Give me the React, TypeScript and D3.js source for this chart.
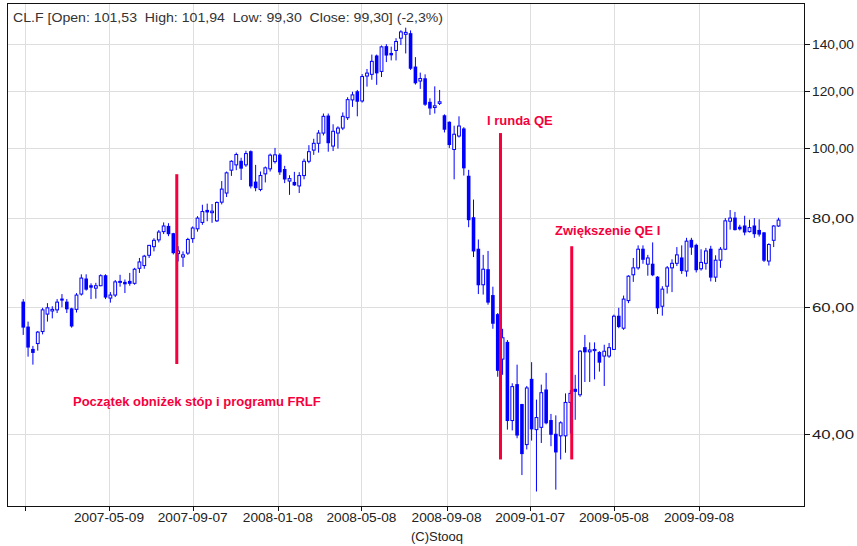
import * as d3 from "d3";

const TITLE = "CL.F [Open: 101,53  High: 101,94  Low: 99,30  Close: 99,30] (-2,3%)";

// weekly candles, one per Friday from 2007-01-05 to 2010-01-01
const FIRST_WEEK = "2007-01-05";
const LAST_WEEK = "2010-01-01";

// [open, high, low, close]
const ohlc2007 = [
  [61.0, 61.6, 54.9, 56.3], [56.3, 57.3, 51.2, 52.8], [52.4, 53.0, 49.9, 51.9], [53.4, 55.6, 52.2, 55.4],
  [55.5, 59.9, 55.0, 59.5], [58.7, 60.8, 57.3, 59.9], [59.3, 60.2, 57.9, 59.6], [59.5, 61.6, 58.9, 61.0],
  [61.6, 62.6, 60.0, 61.4], [61.0, 61.6, 58.9, 59.7], [59.7, 59.9, 56.2, 56.5], [59.6, 62.8, 59.0, 62.4],
  [62.6, 66.7, 62.3, 65.9], [65.7, 66.7, 63.3, 63.6], [64.3, 64.8, 61.6, 64.0], [63.8, 64.9, 61.7, 64.3],
  [64.3, 66.7, 64.2, 66.4], [66.4, 66.7, 61.6, 62.0], [61.8, 63.0, 60.9, 62.4], [62.4, 65.5, 62.0, 65.1],
  [65.0, 66.6, 64.1, 65.2], [65.0, 65.6, 62.8, 64.7], [65.2, 67.0, 64.3, 64.8], [64.8, 68.1, 64.5, 67.8],
  [68.0, 70.3, 67.0, 69.4], [68.6, 71.0, 67.9, 70.7], [70.9, 73.3, 70.3, 73.2], [72.9, 74.9, 71.8, 74.4],
  [74.5, 76.9, 73.9, 76.4], [76.5, 78.8, 75.9, 77.9], [77.8, 78.6, 75.4, 76.0], [76.0, 76.2, 71.1, 71.5],
  [71.3, 73.0, 69.5, 71.9], [70.5, 71.8, 68.3, 71.0], [71.4, 75.0, 71.0, 74.6], [74.8, 77.8, 73.8, 77.4],
  [77.2, 80.4, 76.5, 79.9], [78.8, 83.4, 78.2, 81.6], [81.9, 83.7, 79.1, 81.5], [81.3, 83.6, 78.7, 81.7],
  [79.2, 84.3, 78.9, 84.0], [84.1, 90.0, 83.5, 87.7], [86.6, 92.8, 85.5, 92.4], [93.2, 96.2, 91.5, 95.9],
  [94.8, 98.6, 93.2, 98.0], [95.9, 97.0, 90.3, 93.8], [94.8, 99.2, 94.2, 98.3], [98.9, 99.3, 87.9, 88.6],
  [89.7, 94.8, 87.1, 88.1], [87.6, 92.8, 87.1, 91.6], [92.1, 94.3, 89.6, 93.9], [93.6, 98.3, 92.8, 97.8],
];

const ohlc2008 = [
  [95.8, 100.1, 95.2, 97.9], [97.8, 98.4, 91.8, 92.7], [93.4, 94.5, 89.4, 90.6], [90.0, 91.7, 86.1, 90.7],
  [89.6, 92.7, 88.6, 88.9], [88.6, 92.6, 86.6, 91.6], [91.6, 96.7, 90.5, 95.9], [95.9, 101.0, 95.3, 98.9],
  [99.4, 103.1, 97.9, 101.6], [101.6, 106.0, 98.6, 105.0], [105.0, 111.8, 104.2, 110.8], [110.9, 111.8, 98.9, 101.8],
  [100.7, 108.0, 99.1, 105.6], [105.0, 107.3, 99.9, 106.7], [106.7, 112.2, 106.0, 110.8], [110.3, 117.8, 109.5, 116.9],
  [116.8, 119.9, 114.2, 118.7], [119.9, 120.6, 110.8, 116.3], [116.4, 126.9, 115.8, 125.9], [126.1, 129.0, 121.9, 127.3],
  [126.8, 135.1, 124.6, 132.2], [134.5, 135.1, 122.6, 127.4], [128.0, 139.1, 125.7, 138.5], [138.6, 139.7, 131.9, 134.9],
  [135.6, 138.6, 132.6, 135.0], [136.9, 142.4, 132.6, 140.9], [142.4, 146.1, 139.3, 145.3], [144.2, 147.3, 135.6, 145.1],
  [144.5, 146.0, 128.6, 129.3], [129.8, 134.0, 122.7, 123.4], [124.1, 127.5, 121.0, 125.1], [125.0, 126.8, 114.6, 115.2],
  [115.9, 117.4, 111.3, 113.8], [114.0, 122.0, 111.8, 114.6], [115.5, 120.6, 114.9, 116.1], [111.0, 111.5, 105.2, 106.3],
  [108.7, 109.0, 100.1, 101.2], [99.6, 107.5, 90.5, 104.6], [104.0, 110.8, 103.5, 107.4], [106.4, 107.0, 91.6, 93.9],
  [91.4, 93.3, 77.6, 79.5], [80.0, 84.8, 70.5, 71.9], [72.3, 74.6, 62.6, 64.5], [64.5, 71.0, 62.5, 67.8],
  [67.7, 71.9, 60.5, 61.0], [62.3, 64.1, 56.0, 57.0], [58.6, 58.9, 48.0, 49.0], [50.8, 56.0, 48.3, 54.4],
  [53.6, 54.0, 40.5, 41.7], [41.7, 47.0, 40.4, 46.5], [46.8, 49.9, 39.4, 39.8], [43.9, 44.0, 35.0, 37.5],
];

const ohlc2009 = [
  [38.6, 46.6, 38.0, 46.3], [47.6, 50.3, 39.1, 40.6], [40.5, 44.6, 33.2, 42.1], [40.8, 46.8, 38.8, 45.6],
  [46.0, 48.6, 41.2, 41.4], [41.7, 42.6, 38.4, 39.9], [39.9, 42.4, 33.4, 37.7], [39.7, 41.6, 36.8, 41.4],
  [39.7, 45.5, 37.6, 44.2], [44.2, 46.0, 40.0, 45.5], [46.1, 48.3, 41.8, 45.8], [45.3, 52.3, 45.0, 52.1],
  [52.7, 54.9, 47.2, 52.0], [52.0, 53.6, 47.2, 52.3], [52.2, 53.6, 47.6, 52.4], [51.9, 52.1, 48.8, 50.3],
  [51.3, 53.2, 46.6, 52.1], [51.3, 53.5, 51.0, 52.7], [52.4, 58.6, 52.3, 58.3], [58.3, 59.9, 56.1, 56.4],
  [56.1, 62.3, 55.8, 61.6], [61.3, 66.5, 60.8, 66.3], [66.6, 70.3, 65.1, 68.1], [68.1, 73.2, 67.7, 72.3],
  [72.3, 73.2, 69.0, 70.0], [68.9, 71.0, 66.4, 70.3], [68.9, 73.9, 66.3, 66.6], [66.1, 66.3, 58.7, 59.9],
  [60.2, 64.2, 58.4, 63.6], [64.2, 68.5, 62.7, 68.1], [68.1, 70.0, 63.0, 69.1], [69.1, 72.8, 68.5, 71.0],
  [70.3, 73.2, 66.8, 67.5], [67.4, 75.0, 66.2, 74.2], [74.4, 75.0, 71.0, 72.8], [73.2, 73.6, 67.1, 67.7],
  [67.9, 72.3, 67.5, 69.3], [69.1, 72.6, 67.7, 71.9], [72.3, 73.1, 65.2, 66.1], [66.1, 70.9, 65.1, 69.8],
  [69.8, 72.8, 68.1, 72.3], [72.3, 79.9, 72.1, 79.2], [79.1, 82.0, 77.0, 79.9], [79.9, 81.5, 76.8, 77.0],
  [77.6, 78.2, 76.8, 77.2], [77.9, 80.5, 75.6, 76.4], [76.5, 79.5, 76.3, 77.5], [77.9, 79.9, 75.0, 76.0],
  [76.8, 79.6, 75.3, 75.9], [76.2, 76.4, 69.4, 69.8], [69.6, 73.7, 68.6, 73.4], [74.4, 78.1, 72.8, 77.9],
  [77.9, 80.0, 77.7, 79.4],
];

const xTickDates = [
  "2007-05-09", "2007-09-07", "2008-01-08", "2008-05-08",
  "2008-09-08", "2009-01-07", "2009-05-08", "2009-09-08",
];
const xGridOnly = ["2007-01-08"];
const yTicks = [40, 60, 80, 100, 120, 140];

// policy events: date, price span of the marker line, caption
const eventDates = ["2007-08-15", "2008-11-25", "2009-03-08"];
const eventSpans = [[50, 92], [36.8, 105], [36.8, 73]];
const eventLabels = ["Początek obniżek stóp i programu FRLF", "I runda QE", "Zwiększenie QE I"];
// caption anchors (px)
const eventLabelPos = [[73, 406], [487, 125], [555, 235]];

const W = 857;
const H = 546;
const LEFT = 7;
const RIGHT = 804;
const TOP = 3;
const BOTTOM = 506;
const BLUE = "#0000ff";
const RED = "#f5003c";
const GRID = "#dedede";
const FONT = "'Liberation Sans', Arial, sans-serif";

const day = d3.utcParse("%Y-%m-%d");

export default function App() {
  const x = d3.scaleUtc().domain([day("2007-05-09")!, day("2009-09-08")!]).range([109, 699]);
  const y = d3.scaleLog().domain([40, 140]).range([433.5, 43.5]);
  const fmt = (v: number) => d3.format(".2f")(v).replace(".", ",");

  const weeks = d3.utcFriday.range(day(FIRST_WEEK)!, d3.utcDay.offset(day(LAST_WEEK)!, 1));
  const rows = [...ohlc2007, ...ohlc2008, ...ohlc2009];
  const candles = weeks.map((d, i) => {
    const [o, h, l, c] = rows[i];
    return { d, o, h, l, c };
  });

  return (
    <svg
      width={W}
      height={H}
      style={{ position: "absolute", left: 0, top: 0, background: "#fff" }}
      fontFamily={FONT}
    >
      <rect width={W} height={H} fill="#fff" />
      <defs>
        <clipPath id="plot">
          <rect x={LEFT} y={TOP} width={RIGHT - LEFT} height={BOTTOM - TOP} />
        </clipPath>
      </defs>

      {/* grid */}
      {yTicks.map((t) => (
        <line key={t} x1={LEFT} x2={RIGHT} y1={Math.round(y(t)) + 0.5} y2={Math.round(y(t)) + 0.5} stroke={GRID} />
      ))}
      {[...xGridOnly, ...xTickDates].map((s) => {
        const px = Math.round(x(day(s)!)) + 0.5;
        return <line key={s} x1={px} x2={px} y1={TOP} y2={BOTTOM} stroke={GRID} />;
      })}

      <text x={13} y={22} fontSize={13.5} fill="#333" textLength={430} lengthAdjust="spacingAndGlyphs" style={{ whiteSpace: "pre" }}>
        {TITLE}
      </text>

      {/* candles */}
      <g clipPath="url(#plot)">
        {candles.map(({ d, o, h, l, c }, i) => {
          const cx = x(d);
          const up = c >= o;
          const top = y(Math.max(o, c));
          const bot = y(Math.min(o, c));
          const bh = Math.max(1, bot - top);
          return (
            <g key={i}>
              <line x1={cx} x2={cx} y1={y(h)} y2={y(l)} stroke={BLUE} strokeWidth={1} />
              {up ? (
                <rect x={cx - 1.4} y={top} width={2.8} height={bh} fill="#fff" stroke={BLUE} strokeWidth={1} />
              ) : (
                <rect x={cx - 1.8} y={top - 0.5} width={3.6} height={bh + 1} fill={BLUE} />
              )}
            </g>
          );
        })}
      </g>

      {/* event markers */}
      {eventDates.map((s, i) => {
        const px = x(day(s)!);
        const [lo, hi] = eventSpans[i];
        return <rect key={s} x={px - 1.5} y={y(hi)} width={3} height={y(lo) - y(hi)} fill={RED} />;
      })}
      {eventLabels.map((t, i) => (
        <text key={t} x={eventLabelPos[i][0]} y={eventLabelPos[i][1]} fontSize={13} fontWeight="bold" fill={RED}>
          {t}
        </text>
      ))}

      {/* frame */}
      <rect x={LEFT + 0.5} y={TOP + 0.5} width={RIGHT - LEFT} height={BOTTOM - TOP} fill="none" stroke="#111" />

      {/* right axis */}
      {yTicks.map((t) => {
        const py = Math.round(y(t)) + 0.5;
        return (
          <g key={t}>
            <line x1={RIGHT} x2={RIGHT + 6} y1={py} y2={py} stroke="#111" />
            <text x={RIGHT + 8} y={py + 4.5} fontSize={13} fill="#222" textLength={42} lengthAdjust="spacingAndGlyphs">
              {fmt(t)}
            </text>
          </g>
        );
      })}

      {/* bottom axis */}
      {[...xGridOnly, ...xTickDates].map((s) => {
        const px = Math.round(x(day(s)!)) + 0.5;
        return <line key={s} x1={px} x2={px} y1={BOTTOM} y2={BOTTOM + 5} stroke="#111" />;
      })}
      {xTickDates.map((s) => (
        <text key={s} x={x(day(s)!)} y={522} fontSize={13} textAnchor="middle" fill="#222" textLength={70} lengthAdjust="spacingAndGlyphs">
          {s}
        </text>
      ))}
      <text x={437} y={541} fontSize={13} textAnchor="middle" fill="#222">
        (C)Stooq
      </text>
    </svg>
  );
}
